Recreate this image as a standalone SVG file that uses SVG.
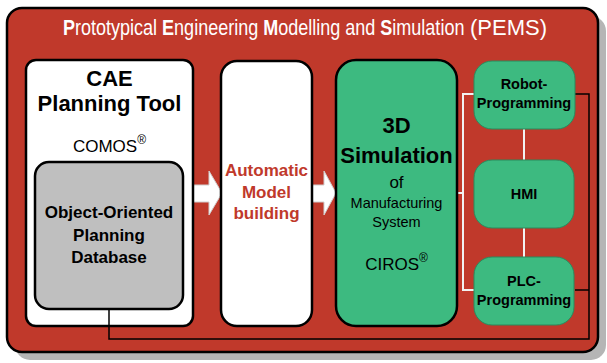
<svg xmlns="http://www.w3.org/2000/svg" width="607" height="363" viewBox="0 0 607 363">
<style>
text{font-family:"Liberation Sans",Arial,sans-serif;}
.b{font-weight:bold;}
.c{text-anchor:middle;}
.blk{fill:#000;}
.main{stroke:#000;stroke-width:2.5;}
.sub{fill:#3dba80;stroke:#2a8a5c;stroke-width:1;}
.arrow{fill:#fff;stroke:#d0d0d0;stroke-width:1;}
.wl{stroke:#f2f2f2;stroke-width:2;fill:none;}
.kl{stroke:#000;stroke-width:1.5;fill:none;}
</style>
<g id="frame">
<rect x="15" y="16" width="591" height="344" rx="15" fill="#b5b5b5"/>
<rect x="7" y="8" width="591" height="344" rx="15" fill="#c0392b" class="main"/>
<g transform="translate(63,34.5) scale(0.819,1)">
<text x="0" y="0" font-size="22" fill="#fff"><tspan class="b">P</tspan>rototypical <tspan class="b">E</tspan>ngineering <tspan class="b">M</tspan>odelling and <tspan class="b">S</tspan>imulation</text>
</g>
<text x="470" y="34.5" font-size="22" fill="#fff">(PEMS)</text>
</g>
<g id="connectors">
<polyline class="kl" points="575,94 589,94 589,339 109,339 109,309"/>
<line class="kl" x1="575" y1="290" x2="589" y2="290"/>
<polyline class="wl" points="474,94 463,94 463,290 474,290"/>
<line class="wl" x1="457" y1="193" x2="463" y2="193"/>
<line class="wl" x1="524" y1="129" x2="524" y2="160"/>
<line class="wl" x1="524" y1="228" x2="524" y2="257"/>
<polygon class="arrow" points="193,185 209,185 209,171 222,193 209,215 209,202 193,202"/>
<polygon class="arrow" points="312,185 324,185 324,171 336,193 324,215 324,202 312,202"/>
</g>
<g id="cae">
<rect x="26" y="60" width="167" height="266" rx="10" fill="#fff" class="main"/>
<text x="109.5" y="86" font-size="22" class="b c blk">CAE</text>
<text x="109.5" y="111" font-size="22" class="b c blk">Planning Tool</text>
<text x="109.5" y="152" font-size="17" class="c blk">COMOS<tspan font-size="12" dy="-8">®</tspan></text>
</g>
<line class="kl" x1="109" y1="309" x2="109" y2="326"/>
<g id="database">
<rect x="35" y="162" width="148" height="147" rx="14" fill="#bfbfbf" class="main"/>
<text x="109" y="218" font-size="17" class="b c blk">Object-Oriented</text>
<text x="109" y="241" font-size="17" class="b c blk">Planning</text>
<text x="109" y="263" font-size="17" class="b c blk">Database</text>
</g>
<g id="automatic">
<rect x="221" y="61" width="91" height="265" rx="16" fill="#fff" class="main"/>
<text x="266.5" y="176" font-size="17" class="b c" fill="#c0392b">Automatic</text>
<text x="266.5" y="198" font-size="17" class="b c" fill="#c0392b">Model</text>
<text x="266.5" y="219" font-size="17" class="b c" fill="#c0392b">building</text>
</g>
<g id="simulation">
<rect x="336" y="60" width="121" height="266" rx="20" fill="#3dba80" class="main"/>
<text x="396.5" y="133" font-size="22" class="b c blk">3D</text>
<text x="396.5" y="163" font-size="22" class="b c blk">Simulation</text>
<text x="396.5" y="188" font-size="17" class="c blk">of</text>
<text x="396.5" y="208" font-size="14.5" class="c blk">Manufacturing</text>
<text x="396.5" y="227" font-size="14.5" class="c blk">System</text>
<text x="396.5" y="270" font-size="17" class="c blk">CIROS<tspan font-size="12" dy="-8">®</tspan></text>
</g>
<g id="robot">
<rect x="474" y="61" width="101" height="68" rx="18" class="sub"/>
<text x="524" y="89" font-size="14.5" class="b c blk">Robot-</text>
<text x="524" y="108" font-size="14.5" class="b c blk">Programming</text>
</g>
<g id="hmi">
<rect x="474" y="160" width="100" height="68" rx="18" class="sub"/>
<text x="524" y="199" font-size="14.5" class="b c blk">HMI</text>
</g>
<g id="plc">
<rect x="474" y="257" width="100" height="68" rx="18" class="sub"/>
<text x="524" y="286" font-size="14.5" class="b c blk">PLC-</text>
<text x="524" y="305" font-size="14.5" class="b c blk">Programming</text>
</g>
</svg>
